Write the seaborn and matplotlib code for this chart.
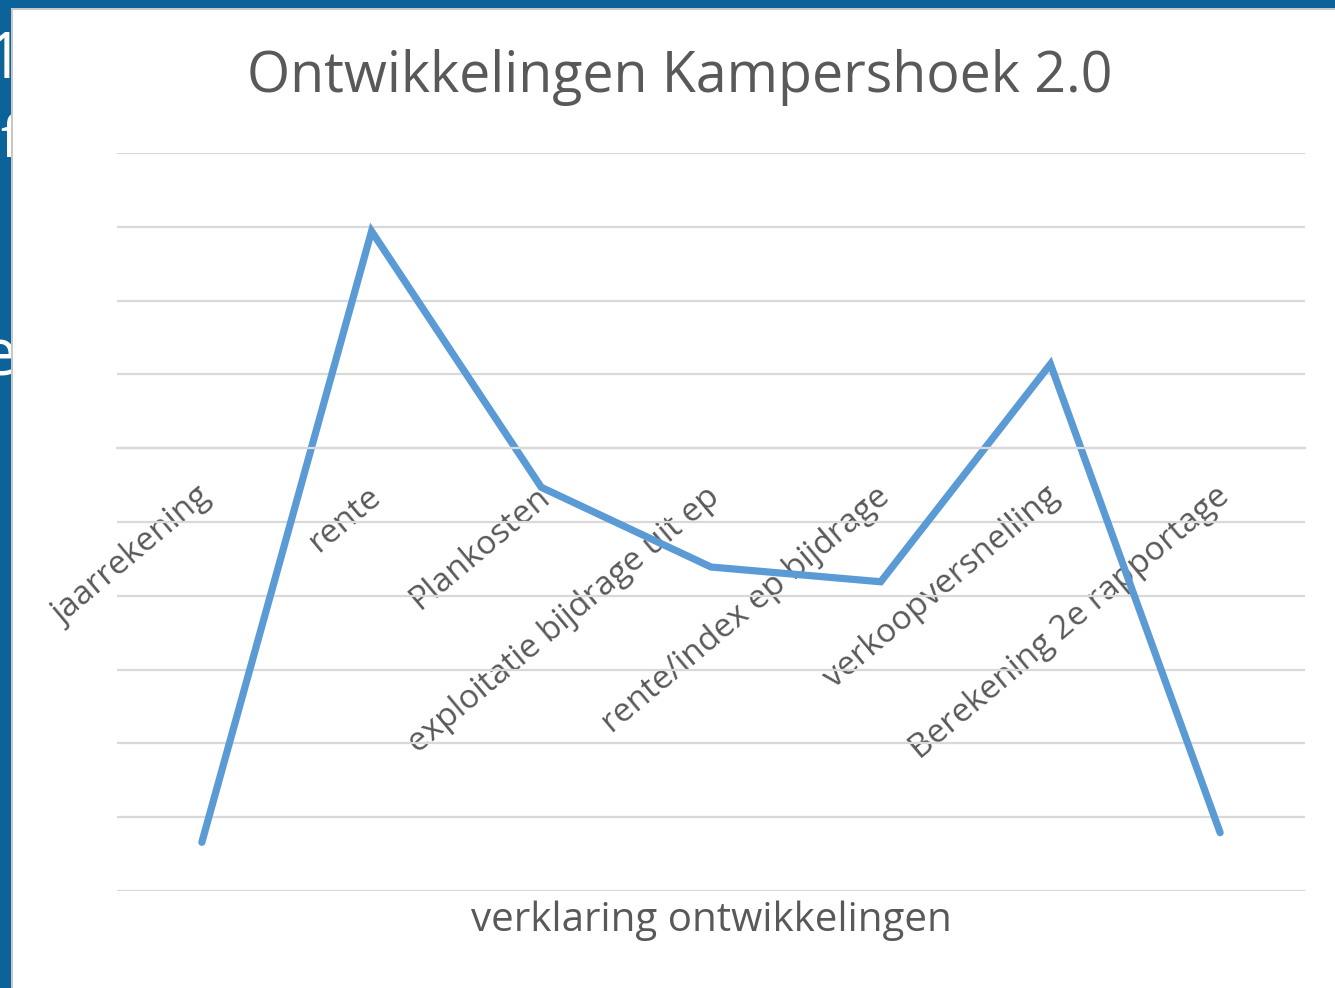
import matplotlib
matplotlib.use("Agg")
import matplotlib.pyplot as plt
import matplotlib.transforms as mtransforms
import pandas as pd
import seaborn as sns
from matplotlib.patches import Rectangle

# chart values (no y scale shown, read in gridline units)
categories = [
    "jaarrekening",
    "rente",
    "Plankosten",
    "exploitatie bijdrage uit ep",
    "rente/index ep bijdrage",
    "verkoopversnelling",
    "Berekening 2e rapportage",
]
values = [-5.34, 2.94, -0.53, -1.61, -1.81, 1.14, -5.21]
title = "Ontwikkelingen Kampershoek 2.0"
x_label = "verklaring ontwikkelingen"
slide_chars = ["1", "f", "e"]

sns.set_style("white")
plt.rcParams["font.family"] = ["Open Sans", "DejaVu Sans"]

TEXT = "#595959"
GRID = "#D9D9D9"
LINE = "#5B9BD5"
SLIDE = "#0B6399"

W, H = 1335, 988
fig = plt.figure(figsize=(W / 100, H / 100), dpi=100, facecolor=SLIDE)

# clipped slide text behind the chart object
for ch, xpx, ypx, size in zip(slide_chars, [23, 19, 17], [78, 157, 375],
                              [46, 40, 47]):
    fig.text(xpx / W, 1 - ypx / H, ch, color="white", fontsize=size,
             ha="right", va="baseline", zorder=0.5)

# white chart area with a faint shadow edge
fig.add_artist(Rectangle((11 / W, 0), 1, 1 - 8 / H, transform=fig.transFigure,
                         facecolor="#C8C8C8", edgecolor="none", zorder=1))
fig.add_artist(Rectangle((13 / W, 0), 1, 1 - 10 / H, transform=fig.transFigure,
                         facecolor="white", edgecolor="none", zorder=1.1))

ax = fig.add_axes([117 / W, 1 - 891 / H, (1305 - 117) / W, (891 - 153) / H])
ax.set_zorder(2)
ax.set_facecolor("white")

df = pd.DataFrame({"categorie": categories, "waarde": values})
sns.lineplot(data=df, x="categorie", y="waarde", sort=False, ax=ax,
             color=LINE, linewidth=5.2, solid_joinstyle="miter",
             solid_capstyle="round")

ax.set_xlim(-0.5, len(categories) - 0.5)
ax.set_ylim(-6, 4)
ax.set_yticks(range(-6, 5))
ax.set_yticklabels([])
ax.tick_params(axis="y", length=0)
ax.grid(axis="y", color=GRID, linewidth=1.6)
ax.set_axisbelow(True)

for side in ["left", "right", "top"]:
    ax.spines[side].set_visible(False)
ax.spines["bottom"].set_position(("data", 0))
ax.spines["bottom"].set_color(GRID)
ax.spines["bottom"].set_linewidth(1.6)

ax.set_xticks(range(len(categories)))
ax.set_xticks([i - 0.5 for i in range(len(categories) + 1)], minor=True)
ax.tick_params(axis="x", which="minor", length=8, width=1.6, color=GRID,
               direction="out")
ax.tick_params(axis="x", which="major", length=0, pad=32)
ax.set_xticklabels(categories, rotation=40, ha="right", va="center",
                   rotation_mode="anchor", color=TEXT, fontsize=24)
shift = mtransforms.ScaledTranslation(5 / 100, 0, fig.dpi_scale_trans)
for lbl in ax.get_xticklabels():
    lbl.set_transform(lbl.get_transform() + shift)

ax.set_xlabel("")
ax.set_ylabel("")
fig.text(711 / W, 1 - 921 / H, x_label, color=TEXT, fontsize=29,
         ha="center", va="center", zorder=3)
fig.text(680 / W, 1 - 77 / H, title, color=TEXT, fontsize=40,
         ha="center", va="center", zorder=3)

fig.savefig("out.png", dpi=100, facecolor=SLIDE)
